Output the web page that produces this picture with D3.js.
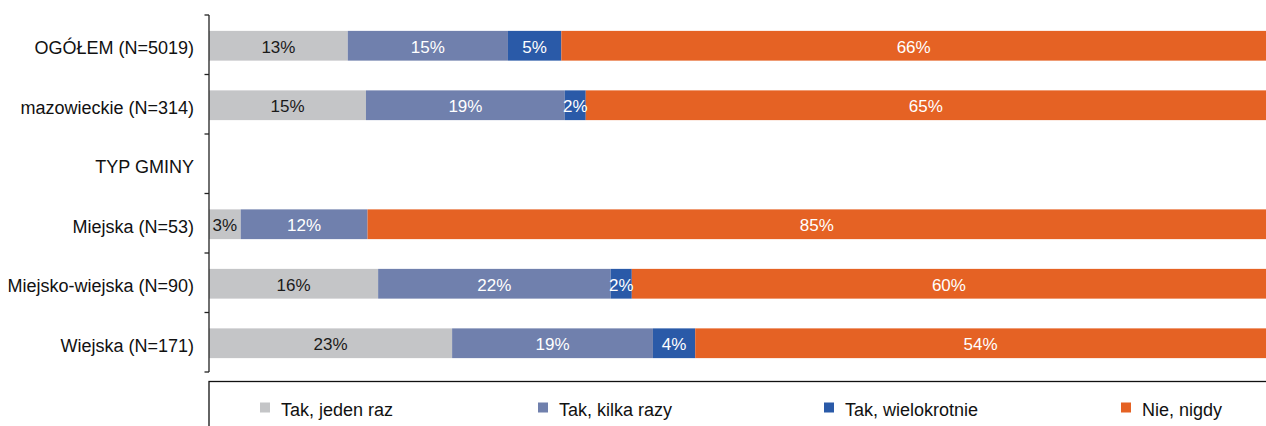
<!DOCTYPE html>
<html><head><meta charset="utf-8">
<script src="https://cdn.jsdelivr.net/npm/d3@7"></script>
<style>body{margin:0;background:#fff}svg{display:block;font-family:"Liberation Sans",Arial,sans-serif}</style>
</head><body><svg id="c" width="1266" height="426"></svg>
<script>
const categories = ["OGÓŁEM (N=5019)","mazowieckie (N=314)","TYP GMINY","Miejska (N=53)","Miejsko-wiejska (N=90)","Wiejska (N=171)"];
const seriesNames = ["Tak, jeden raz","Tak, kilka razy","Tak, wielokrotnie","Nie, nigdy"];
const jedenRaz     = [13,15,null,3,16,23];
const kilkaRazy    = [15,19,null,12,22,19];
const wielokrotnie = [5,2,null,0,2,4];
const nigdy        = [66,65,null,85,60,54];
const colors = ["#c4c5c7","#7080ad","#2a5aa8","#e56224"];
const labelColors = ["#1a1a1a","#fff","#fff","#fff"];

const svg = d3.select("#c");
const x0 = 209, x1 = 1266, yTop = 15, yBot = 372;
const series = [jedenRaz,kilkaRazy,wielokrotnie,nigdy];
const rows = categories.map((c,i)=>{const r={cat:c};seriesNames.forEach((s,k)=>r[s]=series[k][i]);return r;});
const dataRows = rows.filter(r=>r[seriesNames[0]]!==null);
const stacked = d3.stack().keys(seriesNames).offset(d3.stackOffsetExpand)(dataRows);

const x = d3.scaleLinear().domain([0,1]).range([x0,x1]);
const y = d3.scaleBand().domain(categories).range([yTop+1,yBot+1]).paddingInner(0.5).paddingOuter(0.25);

const g = svg.append("g");
stacked.forEach((layer,k)=>{
  g.append("g").selectAll("rect").data(layer).join("rect")
    .attr("x",d=>x(d[0])).attr("width",d=>x(d[1])-x(d[0]))
    .attr("y",d=>y(d.data.cat)).attr("height",y.bandwidth())
    .attr("fill",colors[k]);
});
stacked.forEach((layer,k)=>{
  g.append("g").selectAll("text").data(layer.filter(d=>d.data[layer.key]>0)).join("text")
    .attr("x",d=>(x(d[0])+x(d[1]))/2).attr("y",d=>y(d.data.cat)+y.bandwidth()/2+7)
    .attr("text-anchor","middle")
    .attr("font-size",17).attr("fill",labelColors[k])
    .text(d=>d.data[layer.key]+"%");
});

// y axis
const yAxis = svg.append("g");
yAxis.append("line").attr("x1",x0).attr("x2",x0).attr("y1",yTop).attr("y2",yBot).attr("stroke","#222").attr("stroke-width",1.3);
const step = (yBot-yTop)/categories.length;
d3.range(categories.length+1).forEach(i=>{
  yAxis.append("line").attr("x1",x0-4.5).attr("x2",x0).attr("y1",yTop+i*step).attr("y2",yTop+i*step).attr("stroke","#222").attr("stroke-width",1.3);
});
yAxis.selectAll("text.cat").data(categories).join("text").attr("class","cat")
  .attr("x",x0-15).attr("y",d=>y(d)+y.bandwidth()/2+8.5)
  .attr("text-anchor","end").attr("font-size",18).attr("fill","#111").text(d=>d);

// legend
const leg = svg.append("g");
leg.append("rect").attr("x",x0).attr("y",381.5).attr("width",1200).attr("height",100).attr("fill","none").attr("stroke","#111").attr("stroke-width",1.3);
const legX = [260,538,824,1121];
seriesNames.forEach((s,k)=>{
  leg.append("rect").attr("x",legX[k]).attr("y",402.5).attr("width",10).attr("height",10).attr("fill",colors[k]);
  leg.append("text").attr("x",legX[k]+21).attr("y",415.5).attr("font-size",18).attr("fill","#111").text(s);
});
</script></body></html>
